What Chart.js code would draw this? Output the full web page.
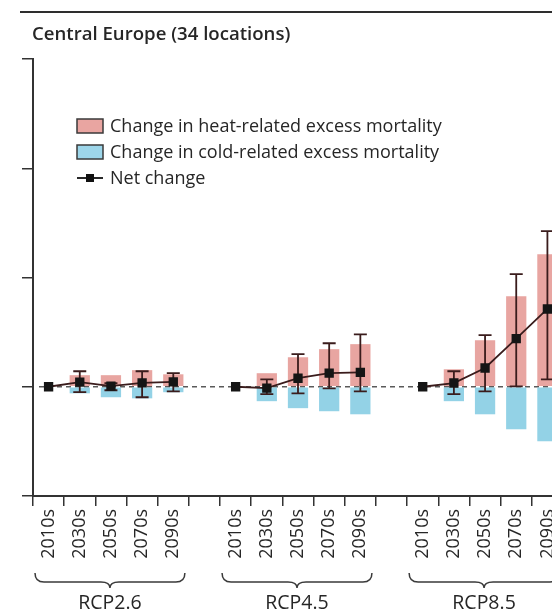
<!DOCTYPE html>
<html>
<head>
<meta charset="utf-8">
<script src="https://cdn.jsdelivr.net/npm/chart.js@4.4.1/dist/chart.umd.min.js"></script>
<style>
  html, body { margin: 0; padding: 0; background: #fff; overflow: hidden; }
  #wrap { position: relative; width: 552px; height: 614px; overflow: hidden; background: #fff; }
  #box { position: absolute; left: 0; top: 0; width: 580px; height: 614px; }
  #rule { position: absolute; left: 20px; top: 11px; width: 532px; height: 0; border-top: 2px solid #2e2e2e; }
</style>
</head>
<body>
<div id="wrap">
  <div id="box"><canvas id="c" width="580" height="614"></canvas></div>
  <div id="rule"></div>
</div>
<script>
// Decades per scenario; an empty slot separates the three scenarios.
const categories = [
  '2010s', '2030s', '2050s', '2070s', '2090s', '',
  '2010s', '2030s', '2050s', '2070s', '2090s', '',
  '2010s', '2030s', '2050s', '2070s', '2090s'
];
const scenarios = ['RCP2.6', 'RCP4.5', 'RCP8.5'];
const scenarioSlots = [[0, 4], [6, 10], [12, 16]];

// Change in excess mortality (%), relative to the 2010s
const heatChange = [0, 0.53, 0.53, 0.76, 0.57, null, 0, 0.62, 1.35, 1.72, 1.95, null, 0, 0.80, 2.13, 4.14, 6.06];
const coldChange = [0, -0.30, -0.48, -0.53, -0.25, null, 0, -0.66, -0.98, -1.12, -1.26, null, 0, -0.66, -1.26, -1.95, -2.49];
const netChange  = [0, 0.21, 0.03, 0.18, 0.22, null, 0, -0.06, 0.39, 0.62, 0.66, null, 0, 0.17, 0.86, 2.20, 3.56];
const netLower   = [null, -0.25, -0.16, -0.48, -0.21, null, null, -0.34, -0.30, -0.07, -0.21, null, null, -0.34, -0.21, 0.02, 0.34];
const netUpper   = [null, 0.71, 0.16, 0.71, 0.62, null, null, 0.34, 1.49, 1.99, 2.40, null, null, 0.71, 2.36, 5.15, 7.12];
const yTicks = [-5, 0, 5, 10, 15];

const titleText = 'Central Europe (34 locations)';
const legendLabels = [
  'Change in heat-related excess mortality',
  'Change in cold-related excess mortality',
  'Net change'
];

const HEAT = 'rgba(226, 140, 134, 0.78)';
const COLD = 'rgba(128, 202, 226, 0.85)';
const INK = '#262626';
const LINE = '#3a1c1c';
const FONT = '"Open Sans", "Noto Sans", sans-serif';

// Dashed reference line at zero
const zeroLine = {
  id: 'zeroLine',
  beforeDatasetsDraw(chart) {
    const { ctx, chartArea, scales } = chart;
    const y = scales.y.getPixelForValue(0);
    ctx.save();
    ctx.strokeStyle = '#5a5a5a';
    ctx.lineWidth = 1.5;
    ctx.setLineDash([5, 4]);
    ctx.beginPath();
    ctx.moveTo(chartArea.left + 6, y);
    ctx.lineTo(chartArea.right, y);
    ctx.stroke();
    ctx.restore();
  }
};

// Uncertainty range of the net change, drawn just under the net line
const errorBars = {
  id: 'errorBars',
  beforeDatasetDraw(chart, args) {
    if (args.index !== 2) return;
    const { ctx, scales } = chart;
    ctx.save();
    ctx.strokeStyle = LINE;
    ctx.lineWidth = 1.8;
    for (let i = 0; i < categories.length; i++) {
      if (netLower[i] == null || netUpper[i] == null) continue;
      const x = scales.x.getPixelForValue(i);
      const y1 = scales.y.getPixelForValue(netLower[i]);
      const y2 = scales.y.getPixelForValue(netUpper[i]);
      ctx.beginPath();
      ctx.moveTo(x, y1); ctx.lineTo(x, y2);
      ctx.moveTo(x - 6.5, y1); ctx.lineTo(x + 6.5, y1);
      ctx.moveTo(x - 6.5, y2); ctx.lineTo(x + 6.5, y2);
      ctx.stroke();
    }
    ctx.restore();
  }
};

// Title, legend and the scenario braces under the decade labels
const decorations = {
  id: 'decorations',
  afterDraw(chart) {
    const { ctx, scales } = chart;
    ctx.save();
    ctx.fillStyle = INK;
    ctx.textBaseline = 'middle';
    ctx.textAlign = 'left';
    ctx.font = '600 18.6px ' + FONT;
    ctx.fillText(titleText, 32, 35);

    // legend
    ctx.font = '18px ' + FONT;
    const lx = 77, ly = [126, 152, 178];
    [0, 1].forEach(k => {
      ctx.fillStyle = k === 0 ? '#e9a5a1' : '#9dd6ea';
      ctx.fillRect(lx, ly[k] - 7, 26, 14);
      ctx.strokeStyle = '#3a3a3a';
      ctx.lineWidth = 1.5;
      ctx.strokeRect(lx, ly[k] - 7, 26, 14);
    });
    ctx.strokeStyle = '#111';
    ctx.lineWidth = 1.8;
    ctx.beginPath();
    ctx.moveTo(lx, ly[2]); ctx.lineTo(lx + 26, ly[2]);
    ctx.stroke();
    ctx.fillStyle = '#111';
    ctx.fillRect(lx + 13 - 4, ly[2] - 4, 8, 8);
    ctx.fillStyle = INK;
    legendLabels.forEach((t, k) => ctx.fillText(t, 110, ly[k] + 1));

    // scenario braces
    const half = (scales.x.getPixelForValue(1) - scales.x.getPixelForValue(0)) / 2;
    ctx.strokeStyle = '#3a3a3a';
    ctx.lineWidth = 1.5;
    ctx.font = '19.5px ' + FONT;
    ctx.textAlign = 'center';
    scenarioSlots.forEach(([a, b], k) => {
      const x1 = scales.x.getPixelForValue(a) - half + 2;
      const x2 = scales.x.getPixelForValue(b) + half - 4;
      const mid = (x1 + x2) / 2;
      const y0 = 573, h = 9, tip = 6;
      ctx.beginPath();
      ctx.moveTo(x1, y0);
      ctx.quadraticCurveTo(x1, y0 + h, x1 + h, y0 + h);
      ctx.lineTo(mid - h, y0 + h);
      ctx.quadraticCurveTo(mid, y0 + h, mid, y0 + h + tip);
      ctx.quadraticCurveTo(mid, y0 + h, mid + h, y0 + h);
      ctx.lineTo(x2 - h, y0 + h);
      ctx.quadraticCurveTo(x2, y0 + h, x2, y0);
      ctx.stroke();
      ctx.fillStyle = INK;
      ctx.fillText(scenarios[k], mid, 603);
    });
    ctx.restore();
  }
};

function draw() {
  new Chart(document.getElementById('c'), {
    type: 'bar',
    data: {
      labels: categories,
      datasets: [
        {
          label: legendLabels[0], data: heatChange, backgroundColor: HEAT,
          grouped: false, barPercentage: 0.65, categoryPercentage: 1, order: 3
        },
        {
          label: legendLabels[1], data: coldChange, backgroundColor: COLD,
          grouped: false, barPercentage: 0.65, categoryPercentage: 1, order: 2
        },
        {
          type: 'line', label: legendLabels[2], data: netChange,
          borderColor: LINE, borderWidth: 1.8, tension: 0, spanGaps: false,
          pointStyle: 'rect', pointRadius: 6.6, pointBackgroundColor: '#151515',
          pointBorderColor: '#151515', pointBorderWidth: 0, order: 1
        }
      ]
    },
    options: {
      responsive: false,
      animation: false,
      devicePixelRatio: 1,
      layout: { padding: { top: 59, right: 17, bottom: 0, left: 0 } },
      plugins: { legend: { display: false }, title: { display: false }, tooltip: { enabled: false } },
      scales: {
        x: {
          offset: true,
          grid: { offset: true, drawOnChartArea: false, drawTicks: true, tickLength: 10, color: '#333', lineWidth: 1.5 },
          border: { display: true, color: '#333', width: 2 },
          ticks: {
            autoSkip: false, minRotation: 90, maxRotation: 90, padding: 3,
            color: '#262626', font: { family: FONT, size: 18 }
          },
          afterFit(scale) { scale.height = 118; }
        },
        y: {
          min: -5, max: 15,
          afterBuildTicks(scale) { scale.ticks = yTicks.map(v => ({ value: v })); },
          grid: { drawOnChartArea: false, drawTicks: true, tickLength: 11, color: '#333', lineWidth: 1.5 },
          border: { display: true, color: '#333', width: 2 },
          ticks: { display: false },
          afterFit(scale) { scale.width = 33; }
        }
      }
    },
    plugins: [zeroLine, errorBars, decorations]
  });
}

const fontLoads = [
  document.fonts.load('18px "Open Sans"'),
  document.fonts.load('600 18px "Open Sans"')
];
Promise.all(fontLoads).then(draw, draw);
</script>
</body>
</html>
